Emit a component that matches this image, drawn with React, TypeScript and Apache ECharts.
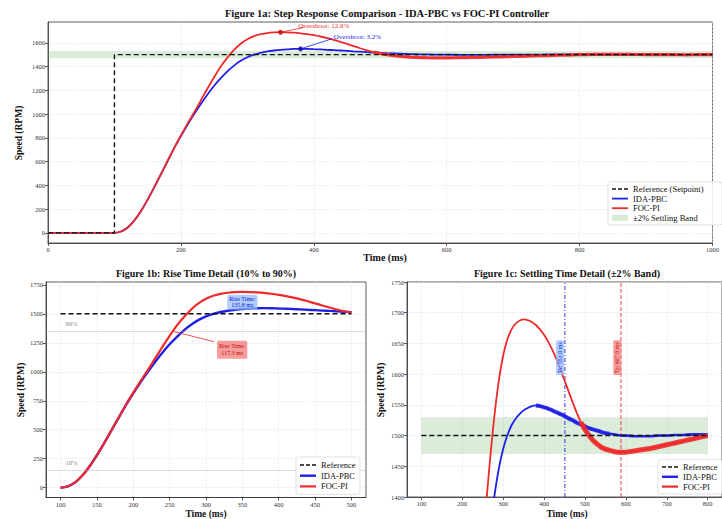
import React, { useEffect, useRef } from "react";
import * as echarts from "echarts";

// ---------- data ----------
const timeMs = [
  0, 100, 110, 120, 130, 140, 150, 160, 170, 180, 190, 200, 210, 220, 230, 240, 250, 260, 270, 280, 290,
  300, 310, 320, 330, 340, 350, 360, 370, 380, 390, 400, 410, 420, 430, 440, 450, 460, 470, 480, 490,
  500, 510, 520, 530, 540, 550, 560, 570, 580, 590, 600, 620, 640, 660, 680, 700, 720, 740, 760, 780,
  800, 820, 840, 860, 880, 900, 920, 940, 960, 980, 1000,
];
const focPiRpm = [
  0, 0, 12, 45, 105, 185, 280, 385, 495, 605, 715, 820, 920, 1015, 1115, 1215, 1310, 1400, 1475, 1540, 1592,
  1630, 1656, 1672, 1682, 1687, 1689, 1688, 1685, 1680, 1673, 1664, 1653, 1640, 1625, 1608, 1590, 1572, 1554, 1537, 1522,
  1510, 1500, 1492, 1486, 1481, 1478, 1476, 1474, 1473, 1473, 1473, 1475, 1477, 1479, 1482, 1485, 1488, 1491, 1494, 1497,
  1500, 1502, 1503, 1503, 1502, 1501, 1500, 1500, 1499, 1500, 1500,
];
const idaPbcRpm = [
  0, 0, 12, 45, 105, 185, 280, 385, 495, 605, 715, 815, 910, 1000, 1085, 1165, 1238, 1302, 1360, 1408, 1448,
  1478, 1500, 1516, 1527, 1535, 1541, 1545, 1548, 1549, 1548, 1546, 1544, 1541, 1538, 1535, 1532, 1528, 1525, 1521, 1518,
  1515, 1512, 1510, 1508, 1506, 1504, 1503, 1502, 1501, 1500, 1500, 1499, 1499, 1499, 1500, 1500, 1501, 1501, 1502, 1502,
  1502, 1501, 1501, 1500, 1500, 1500, 1500, 1500, 1500, 1500, 1500,
];
const setpointRpm = 1500;
const stepTimeMs = 100;
const endTimeMs = 1000;
const bandLow = 1470;
const bandHigh = 1530;
const level90 = 1350;
const level10 = 150;

const topXTicks = [0, 200, 400, 600, 800, 1000];
const topYTicks = [0, 200, 400, 600, 800, 1000, 1200, 1400, 1600];
const riseXTicks = [100, 150, 200, 250, 300, 350, 400, 450, 500];
const riseYTicks = [0, 250, 500, 750, 1000, 1250, 1500, 1750];
const settleXTicks = [100, 200, 300, 400, 500, 600, 700, 800];
const settleYTicks = [1400, 1450, 1500, 1550, 1600, 1650, 1700, 1750];

const overshootLabels = { ida: "Overshoot: 3.2%", foc: "Overshoot: 12.6%" };
const riseLabels = { ida: "Rise Time:\n135.8 ms", foc: "Rise Time:\n117.3 ms" };
const settleTimes = { ida: 451, foc: 588 };
const settleLabels = { ida: "Ts: 351.0 ms", foc: "Ts: 487.9 ms" };

const BLUE = "#1f1fe8";
const RED = "#ee2a2a";
const SERIF = "'Liberation Serif', 'DejaVu Serif', serif";

const pts = (ys: number[], lo: number, hi: number) =>
  timeMs.map((t, i) => [t, ys[i]]).filter(([t]) => t >= lo && t <= hi);

function peakOf(ys: number[]) {
  let bi = 0;
  ys.forEach((v, i) => { if (v > ys[bi]) bi = i; });
  return [timeMs[bi], ys[bi]];
}

function valueAxis(gridIndex: number, min: number, max: number, ticks: number[]) {
  return {
    type: "value",
    gridIndex,
    min,
    max,
    axisLine: { show: true, onZero: false, lineStyle: { color: "#333", width: 0.8 } },
    axisTick: { show: true, length: 3, customValues: ticks, lineStyle: { color: "#333", width: 0.8 } },
    axisLabel: {
      customValues: ticks, fontSize: 6.5, color: "#333", fontFamily: SERIF, margin: 3,
      formatter: (v: number) => String(v),
    },
    splitLine: { show: true, lineStyle: { color: "#e4e4e4", width: 0.6, type: "dashed" } },
  };
}

export default function App() {
  const ref = useRef<HTMLDivElement>(null);
  useEffect(() => {
    if (!ref.current) return;
    const chart = echarts.init(ref.current, null, { renderer: "svg" });
    const focPeak = peakOf(focPiRpm);
    const idaPeak = peakOf(idaPbcRpm);
    const gridStyle = { show: true, borderColor: "#333", borderWidth: 0.8, backgroundColor: "#fff" };
    const line = (name: string, data: any, color: string, width: number, xi: number, extra: any = {}) => ({
      type: "line",
      name,
      xAxisIndex: xi,
      yAxisIndex: xi,
      data,
      showSymbol: false,
      smooth: 0.3,
      lineStyle: { color, width },
      itemStyle: { color },
      silent: true,
      ...extra,
    });
    const refLine = (data: any, xi: number) =>
      line("Reference", data, "#111", 1.4, xi, { smooth: false, z: 5, lineStyle: { color: "#111", width: 1.4, type: [5, 3] } });
    const vLine = (t: number, color: string, dash: number[]) =>
      line("", [[t, 1400], [t, 1750]], color, 0.9, 2, { smooth: false, z: 1, lineStyle: { color, width: 0.9, type: dash } });
    const band = (xi: number, x0: number, x1: number) => ({
      type: "line",
      xAxisIndex: xi,
      yAxisIndex: xi,
      data: [],
      silent: true,
      markArea: {
        silent: true,
        itemStyle: { color: "rgba(90,170,90,0.22)" },
        data: [[{ xAxis: x0, yAxis: bandLow }, { xAxis: x1, yAxis: bandHigh }]],
      },
    });

    const option: any = {
      animation: false,
      backgroundColor: "#fff",
      grid: [
        { left: 48, right: 2, top: 22, height: 221, ...gridStyle },
        { left: 46, width: 320, top: 282, height: 215.5, ...gridStyle },
        { left: 407, width: 320, top: 282, height: 215, ...gridStyle },
      ],
      xAxis: [
        valueAxis(0, 0, endTimeMs, topXTicks),
        valueAxis(1, 80, 520, riseXTicks),
        valueAxis(2, 65, 835, settleXTicks),
      ],
      yAxis: [
        valueAxis(0, -85, 1775, topYTicks),
        valueAxis(1, -84.5, 1774.5, riseYTicks),
        { ...valueAxis(2, 1400, 1750, settleYTicks), interval: 50 },
      ],
      series: [
        // top
        band(0, 0, endTimeMs),
        line("IDA-PBC", pts(idaPbcRpm, 0, 1000), BLUE, 1.8, 0),
        line("FOC-PI", pts(focPiRpm, 0, 1000), RED, 1.8, 0),
        line("", pts(focPiRpm, 490, 1000), RED, 3.2, 0, { lineStyle: { color: RED, width: 3.2, opacity: 0.85 } }),
        refLine([[0, 0], [stepTimeMs, 0], [stepTimeMs, setpointRpm], [endTimeMs, setpointRpm]], 0),
        {
          type: "scatter", xAxisIndex: 0, yAxisIndex: 0, silent: true, z: 6, symbolSize: 5,
          data: [
            { value: focPeak, itemStyle: { color: "#c00000" } },
            { value: idaPeak, itemStyle: { color: "#0000b0" } },
          ],
        },
        // rise detail
        {
          type: "line", xAxisIndex: 1, yAxisIndex: 1, data: [], silent: true,
          markLine: {
            silent: true, symbol: "none", label: { show: false },
            lineStyle: { color: "#aaa", type: "dotted", width: 0.8 },
            data: [{ yAxis: level90 }, { yAxis: level10 }],
          },
        },
        line("IDA-PBC", pts(idaPbcRpm, 100, 500), BLUE, 2.4, 1),
        line("FOC-PI", pts(focPiRpm, 100, 500), RED, 2.2, 1),
        refLine([[100, setpointRpm], [500, setpointRpm]], 1),
        // settle detail
        band(2, 100, 800),
        vLine(settleTimes.ida, BLUE, [4, 2, 1, 2]),
        vLine(settleTimes.foc, RED, [4, 2]),
        line("IDA-PBC", pts(idaPbcRpm, 100, 800), BLUE, 1.8, 2),
        line("", pts(idaPbcRpm, 380, 560), BLUE, 4, 2, { lineStyle: { color: BLUE, width: 4, opacity: 0.9 } }),
        line("", pts(idaPbcRpm, 560, 800), BLUE, 2.6, 2, { lineStyle: { color: BLUE, width: 2.6, opacity: 0.9 } }),
        line("FOC-PI", pts(focPiRpm, 100, 800), RED, 1.8, 2),
        line("", pts(focPiRpm, 490, 800), RED, 5, 2, { lineStyle: { color: RED, width: 5, opacity: 0.9 } }),
        refLine([[100, setpointRpm], [800, setpointRpm]], 2),
      ],
    };
    chart.setOption(option);

    const p = (g: number, x: number, y: number) => chart.convertToPixel({ gridIndex: g } as any, [x, y]) as number[];
    const font = (size: number, bold = false) => `${bold ? "bold " : ""}${size}px ${SERIF}`;
    const text = (x: number, y: number, t: string, size: number, opts: any = {}) => ({
      type: "text", x, y, z: opts.z ?? 100, rotation: opts.rotation ?? 0,
      style: {
        text: t, fill: opts.fill ?? "#111", font: font(size, opts.bold),
        align: opts.align ?? "center", verticalAlign: opts.vAlign ?? "middle",
        backgroundColor: opts.bg, padding: opts.padding, borderRadius: opts.radius, lineHeight: opts.lineHeight,
      },
    });
    const seg = (a: number[], b: number[], stroke: string, w = 0.8, dash?: any) => ({
      type: "line", z: 90, shape: { x1: a[0], y1: a[1], x2: b[0], y2: b[1] }, style: { stroke, lineWidth: w, lineDash: dash },
    });
    const legend = (x: number, y0: number, gap: number, items: any[], w: number, fs: number) => {
      const els: any[] = [];
      els.push({
        type: "rect", z: 95, shape: { x: x - 4, y: y0 - gap * 0.75, width: w, height: gap * (items.length + 0.5), r: 2 },
        style: { fill: "rgba(255,255,255,0.85)", stroke: "#d6d6d6", lineWidth: 0.7 },
      });
      items.forEach((it, i) => {
        const y = y0 + i * gap;
        if (it.kind === "band") {
          els.push({ type: "rect", z: 96, shape: { x, y: y - 3, width: 16, height: 6 }, style: { fill: "rgba(90,170,90,0.25)" } });
        } else {
          els.push({ ...seg([x, y], [x + 16, y], it.color, it.w ?? 1.8, it.dash), z: 96 });
        }
        els.push(text(x + 21, y, it.label, fs, { align: "left", z: 96 }));
      });
      return els;
    };

    const g: any[] = [];
    // titles
    g.push(text(387, 13, "Figure 1a: Step Response Comparison - IDA-PBC vs FOC-PI Controller", 10.5, { bold: true, z: 110 }));
    g.push(text(206, 273, "Figure 1b: Rise Time Detail (10% to 90%)", 10, { bold: true }));
    g.push(text(567, 273, "Figure 1c: Settling Time Detail (\u00b12% Band)", 10, { bold: true }));
    // axis names
    g.push(text(385, 257, "Time (ms)", 10, { bold: true }));
    g.push(text(206, 514, "Time (ms)", 9.5, { bold: true }));
    g.push(text(567, 514, "Time (ms)", 9.5, { bold: true }));
    g.push(text(19, 133, "Speed (RPM)", 9.5, { bold: true, rotation: Math.PI / 2 }));
    g.push(text(21, 390, "Speed (RPM)", 9.5, { bold: true, rotation: Math.PI / 2 }));
    g.push(text(381, 390, "Speed (RPM)", 9.5, { bold: true, rotation: Math.PI / 2 }));

    // top overshoot annotations
    const fp = p(0, focPeak[0], focPeak[1]);
    const ip = p(0, idaPeak[0], idaPeak[1]);
    const fText = p(0, 415, 1745);
    const iText = p(0, 430, 1650);
    g.push(seg(fp, [fText[0] - 20, fText[1] + 2], RED, 0.8));
    g.push(text(fText[0], fText[1], overshootLabels.foc, 7, { fill: RED, z: 50 }));
    g.push(seg(ip, [iText[0] - 2, iText[1] + 2], BLUE, 0.8));
    g.push(text(iText[0], iText[1], overshootLabels.ida, 7, { fill: BLUE, align: "left" }));

    // rise detail labels
    const l90 = p(1, 115, level90 + 70);
    const l10 = p(1, 115, level10 + 70);
    g.push(text(l90[0], l90[1], "90%", 6.5, { fill: "#888" }));
    g.push(text(l10[0], l10[1], "10%", 6.5, { fill: "#888" }));
    const bBox = p(1, 350, 1600);
    g.push(text(bBox[0], bBox[1], riseLabels.ida, 6, { fill: "#1020d0", bg: "rgba(150,190,255,0.75)", padding: [1, 2], radius: 1.5, lineHeight: 6.5 }));
    const rBox = p(1, 336, 1190);
    const rTarget = p(1, 254, level90);
    g.push(seg([rBox[0] - 18, rBox[1] - 8], rTarget, RED, 0.8));
    g.push(text(rBox[0], rBox[1], riseLabels.foc, 6, { fill: "#c01010", bg: "rgba(245,130,130,0.8)", padding: [2, 2], radius: 1.5, lineHeight: 7 }));

    // settle labels (rotated)
    const sb = p(2, settleTimes.ida - 12, 1627);
    const sr = p(2, settleTimes.foc - 9, 1627);
    g.push(text(sb[0], sb[1], settleLabels.ida, 6, { fill: "#1020d0", bg: "rgba(150,190,255,0.75)", padding: [1, 2], radius: 1.5, rotation: Math.PI / 2 }));
    g.push(text(sr[0], sr[1], settleLabels.foc, 6, { fill: "#c01010", bg: "rgba(245,130,130,0.8)", padding: [1, 2], radius: 1.5, rotation: Math.PI / 2 }));

    // legends
    g.push(...legend(612, 189, 9.6, [
      { label: "Reference (Setpoint)", color: "#111", w: 1.4, dash: [4, 2] },
      { label: "IDA-PBC", color: BLUE },
      { label: "FOC-PI", color: RED },
      { label: "\u00b12% Settling Band", kind: "band" },
    ], 114, 8.5));
    g.push(...legend(300, 465, 10.7, [
      { label: "Reference", color: "#111", w: 1.4, dash: [4, 2] },
      { label: "IDA-PBC", color: BLUE, w: 2.4 },
      { label: "FOC-PI", color: RED, w: 2.2 },
    ], 64, 8.5));
    g.push(...legend(662, 467, 9.8, [
      { label: "Reference", color: "#111", w: 1.4, dash: [4, 2] },
      { label: "IDA-PBC", color: BLUE, w: 2.4 },
      { label: "FOC-PI", color: RED, w: 2.2 },
    ], 64, 8.5));

    chart.setOption({ graphic: { elements: g } });
    return () => chart.dispose();
  }, []);
  return <div ref={ref} style={{ position: "fixed", left: 0, top: 0, width: 722, height: 519, background: "#fff" }} />;
}
